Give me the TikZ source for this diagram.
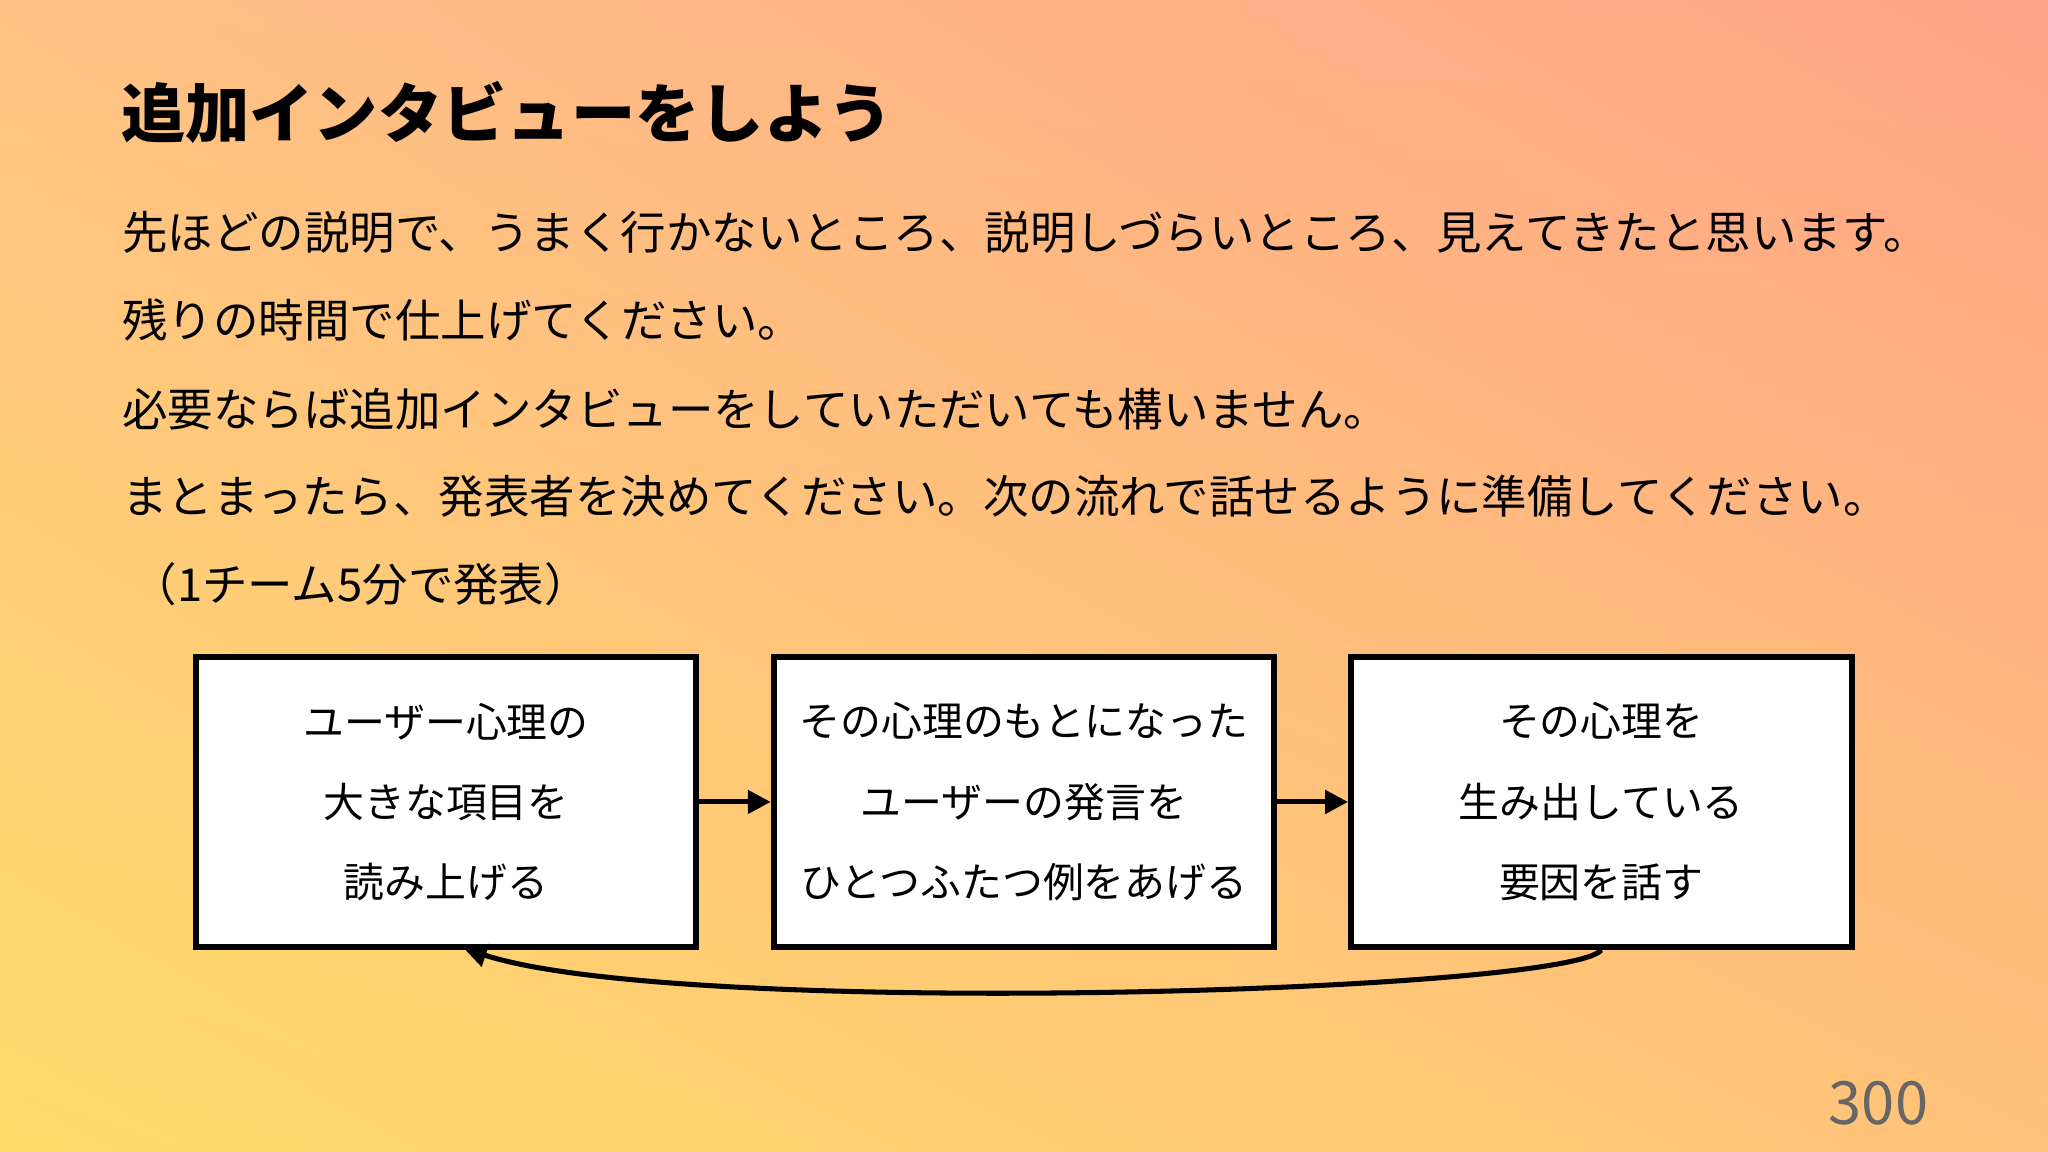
\documentclass[tikz,border=0pt]{standalone}
\usepackage{fontspec}
\setmainfont{Noto Sans CJK JP}
\usetikzlibrary{arrows.meta,shadings}
\definecolor{tl}{HTML}{FFC285}
\definecolor{tr}{HTML}{FFA386}
\definecolor{bl}{HTML}{FFDC6A}
\definecolor{br}{HTML}{FFC27A}
\begin{document}
\begin{tikzpicture}[x=0.01cm,y=-0.01cm,
  body/.style={anchor=west,inner sep=0pt,font=\fontsize{9.9pt}{11pt}\selectfont},
  flowbox/.style={draw=black,line width=1.3pt,fill=white,minimum width=3.83cm,minimum height=2.22cm,align=center,font=\fontsize{8.9pt}{17.5pt}\selectfont},
  conn/.style={line width=1.1pt,-{Triangle[length=5pt,width=5pt]}}]
\shade[upper left=tl,upper right=tr,lower left=bl,lower right=br] (0,882) rectangle (1568,0);
\useasboundingbox (0,0) rectangle (1568,882);
\node[body,font=\fontsize{14pt}{16pt}\selectfont\bfseries] (title) at (92,86) {追加インタビューをしよう};
\node[body] (l1) at (93,178) {先ほどの説明で、うまく行かないところ、説明しづらいところ、見えてきたと思います。};
\node[body] (l2) at (93,245) {残りの時間で仕上げてください。};
\node[body] (l3) at (93,313) {必要ならば追加インタビューをしていただいても構いません。};
\node[body] (l4) at (93,380) {まとまったら、発表者を決めてください。次の流れで話せるように準備してください。};
\node[body] (l5) at (100,447) {（1チーム5分で発表）};
\node[flowbox] (b1) at (341.5,614) {ユーザー心理の\\大きな項目を\\読み上げる};
\node[flowbox] (b2) at (784,614) {その心理のもとになった\\ユーザーの発言を\\ひとつふたつ例をあげる};
\node[flowbox] (b3) at (1226,614) {その心理を\\生み出している\\要因を話す};
\coordinate (ret) at (355,726);
\draw[conn] (b1.east) -- (b2.west);
\draw[conn] (b2.east) -- (b3.west);
\draw[conn] (b3.south) .. controls (1200,760) and (520,780) .. (ret);
\node[anchor=east,inner sep=0pt,text=gray!80!black,font=\fontsize{13pt}{15pt}\selectfont] (pg) at (1477,845) {300};
\end{tikzpicture}
\end{document}
